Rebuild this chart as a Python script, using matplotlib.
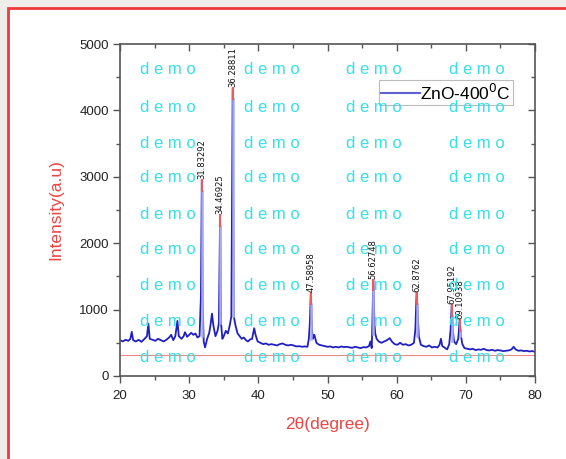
import matplotlib
matplotlib.use("Agg")
import matplotlib.pyplot as plt
from matplotlib.patches import Rectangle

# XRD pattern (2theta, intensity)
two_theta = [20.0, 20.4, 20.8, 21.2, 21.5, 21.7, 21.9, 22.3, 22.7, 23.1, 23.5, 23.9, 24.1, 24.3,
             24.7, 25.1, 25.5, 25.9, 26.3, 26.7, 27.1, 27.4, 27.7, 28.0, 28.3, 28.5, 28.9, 29.2,
             29.4, 29.7, 30.0, 30.3, 30.6, 30.9, 31.2, 31.5, 31.7, 31.83, 31.95, 32.1, 32.3, 32.6,
             32.9, 33.1, 33.3, 33.5, 33.8, 34.1, 34.3, 34.47, 34.6, 34.8, 35.0, 35.3, 35.6, 35.9,
             36.1, 36.29, 36.45, 36.7, 37.0, 37.3, 37.6, 37.9, 38.2, 38.5, 38.8, 39.1, 39.4, 39.6,
             39.9, 40.3, 40.7, 41.1, 41.5, 41.9, 42.3, 42.7, 43.1, 43.5, 43.9, 44.3, 44.7, 45.1,
             45.5, 45.9, 46.3, 46.7, 47.1, 47.3, 47.45, 47.59, 47.75, 47.9, 48.1, 48.4, 48.8, 49.2,
             49.6, 50.0, 50.4, 50.8, 51.2, 51.6, 52.0, 52.4, 52.8, 53.2, 53.6, 54.0, 54.4, 54.8,
             55.2, 55.6, 56.0, 56.2, 56.4, 56.5, 56.63, 56.78, 56.9, 57.1, 57.4, 57.8, 58.2, 58.6,
             59.0, 59.3, 59.7, 60.1, 60.5, 60.9, 61.3, 61.7, 62.1, 62.5, 62.7, 62.88, 63.05, 63.2,
             63.5, 63.9, 64.3, 64.7, 65.1, 65.5, 65.9, 66.2, 66.4, 66.6, 66.9, 67.3, 67.6, 67.8,
             67.96, 68.1, 68.3, 68.6, 68.9, 69.11, 69.3, 69.5, 69.8, 70.2, 70.6, 71.0, 71.4, 71.8,
             72.2, 72.6, 73.0, 73.4, 73.8, 74.2, 74.6, 75.0, 75.4, 75.8, 76.2, 76.6, 76.9, 77.2,
             77.6, 78.0, 78.4, 78.8, 79.2, 79.6, 80.0]
intensity = [540, 520, 545, 530, 560, 665, 540, 520, 545, 515, 555, 600, 790, 560,
             545, 530, 560, 540, 520, 545, 580, 620, 540, 600, 830, 600, 560, 600,
             660, 590, 620, 650, 620, 640, 580, 600, 1200, 2950, 1100, 520, 430, 560,
             650, 780, 940, 760, 600, 680, 800, 2420, 800, 560, 600, 680, 640, 780,
             900, 4330, 900, 760, 640, 600, 560, 580, 540, 520, 550, 560, 720, 620,
             520, 500, 480, 490, 470, 480, 470, 460, 480, 490, 470, 460, 470, 460,
             445, 450, 440, 445, 440, 560, 800, 1250, 700, 560, 620, 500, 470, 460,
             450, 440, 445, 430, 440, 430, 445, 435, 440, 430, 425, 440, 430, 420,
             435, 430, 450, 520, 420, 900, 1450, 800, 640, 560, 520, 500, 520, 540,
             570, 520, 480, 470, 500, 470, 480, 460, 470, 500, 700, 1250, 920, 600,
             470, 450, 440, 460, 430, 440, 430, 470, 560, 450, 430, 400, 480, 700,
             1070, 700, 520, 480, 560, 845, 600, 480, 420, 410, 400, 410, 390, 400,
             395, 410, 390, 385, 395, 380, 390, 385, 375, 380, 385, 400, 440, 400,
             380, 385, 375, 380, 370, 375, 365]

# labelled peaks
peak_pos = [31.83292, 34.46925, 36.28811, 47.58958, 56.62748, 62.8762, 67.95192, 69.10938]
peak_top = [2950, 2420, 4330, 1250, 1450, 1250, 1070, 845]
peak_base = [600, 800, 900, 560, 640, 600, 520, 600]
peak_text = ["31.83292", "34.46925", "36.28811", "47.58958", "56.62748", "62.8762",
             "67.95192", "69.10938"]

background_level = 320

W, H = 566, 459
fig = plt.figure(figsize=(W / 100, H / 100), dpi=100)
fig.patch.set_facecolor("#efeeea")
fig.patches.append(Rectangle((8 / W, -0.1), 1.2, 1 - 8 / H + 0.1, transform=fig.transFigure,
                             facecolor="white", edgecolor="#f03a3a", linewidth=2, zorder=0))

ax = fig.add_axes([120 / W, 1 - 376 / H, 415 / W, 332 / H])
ax.set_facecolor("none")
ax.set_zorder(2)

ax.axhline(background_level, color="#f08a8a", lw=0.8, zorder=1)
ax.plot(two_theta, intensity, color="#2020c0", lw=1.3, label="ZnO-400$^0$C", zorder=2)
for x, top, base, txt in zip(peak_pos, peak_top, peak_base, peak_text):
    ax.plot([x, x], [base, top - 160], color="#a8a8f0", lw=1.8, zorder=3)
    ax.plot([x, x], [top - 160, top], color="#ec5a5a", lw=1.5, zorder=3)
    ax.text(x, top + 15, txt, rotation=90, ha="center", va="bottom", fontsize=6,
            color="#111111", family="DejaVu Sans", zorder=4)

ax.set_xlim(20, 80)
ax.set_ylim(0, 5000)
ax.set_xticks(range(20, 81, 10))
ax.set_xticks(range(25, 80, 10), minor=True)
ax.set_yticks(range(0, 5001, 1000))
ax.set_yticks(range(500, 5000, 1000), minor=True)

for s in ax.spines.values():
    s.set_color("#555555")
    s.set_linewidth(1.2)

ax.tick_params(axis="both", which="major", length=5, width=1, color="#555555",
               labelcolor="#222222", labelsize=9.5)
ax.tick_params(axis="both", which="minor", length=3, width=1, color="#555555")
ax.tick_params(axis="x", which="both", direction="out", pad=5)
ax.tick_params(axis="y", which="both", direction="out", pad=3)
ax.tick_params(which="both", top=True, right=True)
for lab in ax.get_xticklabels() + ax.get_yticklabels():
    lab.set_family("Liberation Sans")

# top and right ticks point inwards
for t in ax.xaxis.get_major_ticks() + ax.xaxis.get_minor_ticks():
    t.tick2line.set_marker(3)
for t in ax.yaxis.get_major_ticks() + ax.yaxis.get_minor_ticks():
    t.tick2line.set_marker(0)

ax.set_xlabel("2θ(degree)", color="#ee4444", fontsize=12.5, family="Liberation Sans")
ax.set_ylabel("Intensity(a.u)", color="#ee4444", fontsize=12.5, family="Liberation Sans")
ax.xaxis.set_label_coords(0.5, -0.125)
ax.yaxis.set_label_coords(-0.137, 0.5)

leg = ax.legend(loc="upper right", bbox_to_anchor=(0.947, 0.892), borderaxespad=0,
                frameon=True, fancybox=False, handlelength=2.2, handletextpad=0.0,
                borderpad=0.15, prop={"family": "Liberation Sans", "size": 12.5})
leg.get_frame().set_edgecolor("#aaaaaa")
leg.get_frame().set_linewidth(0.8)
leg.get_lines()[0].set_color("#6060d0")
leg.get_lines()[0].set_linewidth(1.5)

# watermark grid
wm_x = [168, 272, 374, 477]
wm_y = [70, 107, 143, 178, 214, 250, 286, 322, 358]
for yy in wm_y:
    for xx in wm_x:
        fig.text(xx / W, 1 - yy / H, "d e m o", ha="center", va="center", fontsize=12,
                 color="#36e0ea", family="Liberation Sans", zorder=10)

fig.savefig("out.png", dpi=100)
